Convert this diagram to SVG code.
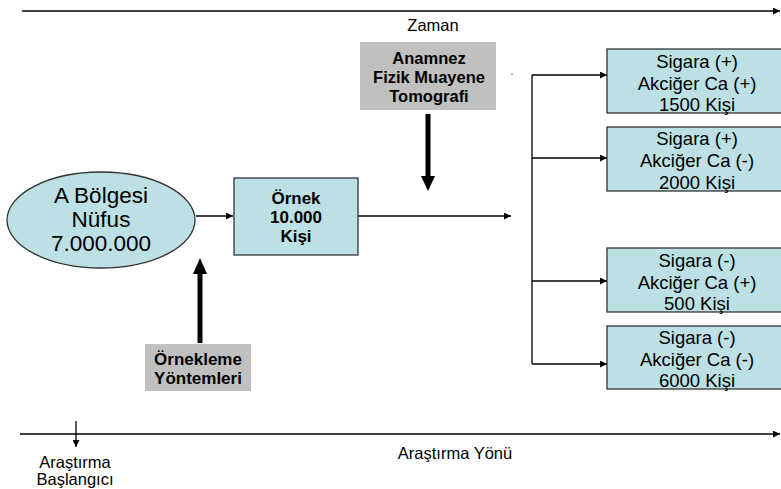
<svg xmlns="http://www.w3.org/2000/svg" width="781" height="489" viewBox="0 0 781 489">
<defs>
<style>
.t{font-family:"Liberation Sans",Arial,sans-serif;fill:#000;text-anchor:middle}
.r{font-size:16.5px}
.b{font-size:17px;font-weight:bold}
.b2{font-size:16.5px;font-weight:bold}
.big{font-size:22.5px}
.m{font-size:18.5px}
.teal{fill:#bce0e3;stroke:#333;stroke-width:1.3}
.gray{fill:#c0c0c0;stroke:none}
.ln{stroke:#000;stroke-width:1.3;fill:none}
.thick{stroke:#000;stroke-width:5;fill:none}
</style>
<marker id="ah" viewBox="0 0 10 10" refX="10" refY="5" markerUnits="userSpaceOnUse" markerWidth="8" markerHeight="7" orient="auto">
<path d="M0,0 L10,5 L0,10 Z" fill="#000"/>
</marker>
</defs>
<rect width="781" height="489" fill="#fff"/>

<g id="connectors">
<line class="ln" x1="22" y1="11" x2="780" y2="11" marker-end="url(#ah)"/>
<line class="ln" x1="20" y1="434" x2="780" y2="434" marker-end="url(#ah)"/>
<line class="ln" x1="76" y1="421" x2="76" y2="447" marker-end="url(#ah)"/>
<line class="ln" x1="196" y1="216" x2="233" y2="216" marker-end="url(#ah)"/>
<line class="ln" x1="358" y1="216" x2="511" y2="216" marker-end="url(#ah)"/>
<line class="thick" x1="428" y1="114" x2="428" y2="178"/>
<path d="M421,176 L435,176 L428,191 Z" fill="#000"/>
<line class="thick" x1="200" y1="343" x2="200" y2="272"/>
<path d="M193,274 L207,274 L200,258 Z" fill="#000"/>
<line class="ln" x1="532" y1="75" x2="532" y2="364"/>
<line class="ln" x1="532" y1="75" x2="607" y2="75" marker-end="url(#ah)"/>
<line class="ln" x1="532" y1="158" x2="607" y2="158" marker-end="url(#ah)"/>
<line class="ln" x1="532" y1="281" x2="607" y2="281" marker-end="url(#ah)"/>
<line class="ln" x1="532" y1="364" x2="607" y2="364" marker-end="url(#ah)"/>
<rect x="511.5" y="73.5" width="1" height="1" fill="#000"/>
</g>

<g id="zaman"><text class="t r" x="433" y="31">Zaman</text></g>

<g id="nufus">
<ellipse class="teal" cx="101" cy="220" rx="94" ry="48"/>
<text class="t big" x="101" y="203">A Bölgesi</text>
<text class="t big" x="101" y="227">Nüfus</text>
<text class="t big" x="101" y="251">7.000.000</text>
</g>

<g id="ornek">
<rect class="teal" x="234" y="178" width="124" height="77"/>
<text class="t b" x="296" y="204">Örnek</text>
<text class="t b" x="296" y="223">10.000</text>
<text class="t b" x="296" y="242">Kişi</text>
</g>

<g id="anamnez">
<rect class="gray" x="360" y="42" width="136" height="68"/>
<text class="t b2" x="429" y="64">Anamnez</text>
<text class="t b2" x="429" y="83">Fizik Muayene</text>
<text class="t b2" x="429" y="102">Tomografi</text>
</g>

<g id="orneklemeYontem">
<rect class="gray" x="145" y="344" width="106" height="47"/>
<text class="t b" x="198" y="365">Örnekleme</text>
<text class="t b" x="198" y="384">Yöntemleri</text>
</g>

<g id="grup1">
<rect class="teal" x="607" y="49" width="180" height="64"/>
<text class="t m" x="697" y="68">Sigara (+)</text>
<text class="t m" x="697" y="90">Akciğer Ca (+)</text>
<text class="t m" x="697" y="111">1500 Kişi</text>
</g>

<g id="grup2">
<rect class="teal" x="607" y="127" width="180" height="64"/>
<text class="t m" x="697" y="145">Sigara (+)</text>
<text class="t m" x="697" y="167">Akciğer Ca (-)</text>
<text class="t m" x="697" y="189">2000 Kişi</text>
</g>

<g id="grup3">
<rect class="teal" x="607" y="248" width="180" height="64"/>
<text class="t m" x="697" y="267">Sigara (-)</text>
<text class="t m" x="697" y="289">Akciğer Ca (+)</text>
<text class="t m" x="697" y="310">500 Kişi</text>
</g>

<g id="grup4">
<rect class="teal" x="607" y="326" width="180" height="63"/>
<text class="t m" x="697" y="344">Sigara (-)</text>
<text class="t m" x="697" y="366">Akciğer Ca (-)</text>
<text class="t m" x="697" y="387">6000 Kişi</text>
</g>

<g id="baslangic">
<text class="t r" x="75" y="468">Araştırma</text>
<text class="t r" x="75" y="485">Başlangıcı</text>
</g>

<g id="yon"><text class="t r" x="455" y="459">Araştırma Yönü</text></g>
</svg>
